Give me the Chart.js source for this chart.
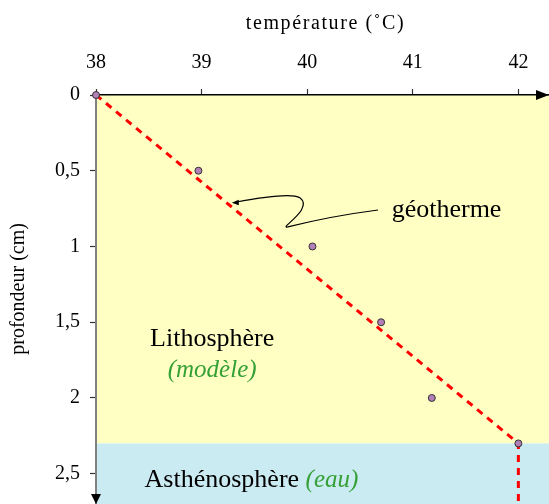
<!DOCTYPE html>
<html>
<head>
<meta charset="utf-8">
<script src="https://cdn.jsdelivr.net/npm/chart.js@4"></script>
<style>
  html, body { margin: 0; padding: 0; background: #fff; }
  canvas { display: block; }
</style>
</head>
<body>
<canvas id="geo" width="549" height="504"></canvas>
<script>
// mesures (température en °C, profondeur en cm)
const temperatures = [38, 38.97, 40.05, 40.70, 41.18, 42];
const profondeurs  = [0, 0.5, 1, 1.5, 2, 2.3];

// géotherme modèle
const geoTemp = [38, 42, 42];
const geoProf = [0, 2.3, 2.7];

const xTicks = [38, 39, 40, 41, 42];
const yTicks = [0, 0.5, 1, 1.5, 2, 2.5];

const limiteLitho = 2.3;

const SERIF = "'Liberation Serif', 'Times New Roman', serif";

// pas de marge auto autour des axes
function fixAxe(s, cote, taille) {
    s[cote] = taille;
    s.paddingTop = 0; s.paddingBottom = 0;
    s.paddingLeft = 0; s.paddingRight = 0;
}

/* fonds + annotations */
const decor = {
    id: 'decor',
    beforeDraw(chart) {
        const { ctx, chartArea: a, scales: { x, y } } = chart;
        const yl = y.getPixelForValue(limiteLitho);
        ctx.save();
        ctx.fillStyle = '#FFFFC4';
        ctx.fillRect(a.left, a.top, a.right - a.left, yl - a.top);
        ctx.fillStyle = '#CBEBF2';
        ctx.fillRect(a.left, yl, a.right - a.left, a.bottom - yl);
        ctx.restore();
    },
    afterDraw(chart) {
        const { ctx, chartArea: a, scales: { x, y } } = chart;
        const px = v => x.getPixelForValue(v);
        const py = v => y.getPixelForValue(v);
        ctx.save();

        // titres des axes
        ctx.font = '20px ' + SERIF;
        ctx.fillStyle = '#000';
        ctx.textAlign = 'center';
        ctx.textBaseline = 'middle';
        ctx.letterSpacing = '1.6px';
        ctx.fillText('température (˚C)', (a.left + a.right) / 2 + 3, 24);
        ctx.letterSpacing = '0px';

        ctx.save();
        ctx.translate(19, py(1.28));
        ctx.rotate(-Math.PI / 2);
        ctx.fillText('profondeur (cm)', 0, 0);
        ctx.restore();

        // flèches des axes
        ctx.beginPath();
        ctx.moveTo(a.right, a.top);
        ctx.lineTo(a.right - 13, a.top - 5);
        ctx.lineTo(a.right - 13, a.top + 5);
        ctx.closePath();
        ctx.fill();
        ctx.beginPath();
        ctx.moveTo(a.left, a.bottom);
        ctx.lineTo(a.left - 5, a.bottom - 10);
        ctx.lineTo(a.left + 5, a.bottom - 10);
        ctx.closePath();
        ctx.fill();

        // textes
        ctx.textBaseline = 'alphabetic';
        ctx.font = '26px ' + SERIF;
        ctx.fillText('Lithosphère', px(39.10), py(1.656));
        ctx.font = 'italic 25px ' + SERIF;
        ctx.fillStyle = '#35A035';
        ctx.fillText('(modèle)', px(39.10), py(1.86));

        ctx.textAlign = 'left';
        ctx.font = '26px ' + SERIF;
        ctx.fillStyle = '#000';
        const ax = px(38.46), ay = py(2.586);
        ctx.fillText('Asthénosphère ', ax, ay);
        const w = ctx.measureText('Asthénosphère ').width;
        ctx.font = 'italic 25px ' + SERIF;
        ctx.fillStyle = '#35A035';
        ctx.fillText('(eau)', ax + w, ay);

        ctx.font = '26px ' + SERIF;
        ctx.fillStyle = '#000';
        ctx.fillText('géotherme', px(40.80), py(0.805));

        // flèche ondulée vers le géotherme
        ctx.strokeStyle = '#000';
        ctx.lineWidth = 1.2;
        ctx.beginPath();
        ctx.moveTo(px(40.671), py(0.759));
        ctx.quadraticCurveTo(px(40.215), py(0.80), px(39.817), py(0.871));
        ctx.bezierCurveTo(px(39.72), py(0.885), px(40.07), py(0.75), px(39.931), py(0.679));
        ctx.quadraticCurveTo(px(39.84), py(0.64), px(39.32), py(0.708));
        ctx.stroke();
        const tx = px(39.286), ty = py(0.712);
        ctx.beginPath();
        ctx.moveTo(tx, ty);
        ctx.lineTo(tx + 7, ty - 3);
        ctx.lineTo(tx + 7, ty + 2.5);
        ctx.closePath();
        ctx.fill();

        ctx.restore();
    }
};

new Chart(document.getElementById('geo'), {
    type: 'scatter',
    data: {
        datasets: [{
            data: temperatures.map((t, i) => ({ x: t, y: profondeurs[i] })),
            backgroundColor: '#B27FB6',
            borderColor: '#333',
            borderWidth: 1,
            pointRadius: 3.5,
            showLine: false,
            clip: false
        }, {
            data: geoTemp.map((t, i) => ({ x: t, y: geoProf[i] })),
            showLine: true,
            borderColor: '#FF0000',
            borderWidth: 3,
            borderDash: [7, 6],
            pointRadius: 0,
            fill: false
        }]
    },
    options: {
        responsive: false,
        animation: false,
        layout: { padding: 0, autoPadding: false },
        plugins: { legend: { display: false }, tooltip: { enabled: false } },
        scales: {
            x: {
                type: 'linear',
                position: 'top',
                min: 38,
                max: 42.29,
                afterBuildTicks: s => { s.ticks = xTicks.map(v => ({ value: v })); },
                afterFit: s => fixAxe(s, 'height', 95),
                ticks: { color: '#000', padding: 14, font: { family: SERIF, size: 20 } },
                grid: { drawOnChartArea: false, tickLength: 6, tickColor: '#333', tickWidth: 1.2 },
                border: { color: '#000', width: 1.5 },
                title: { display: false }
            },
            y: {
                type: 'linear',
                reverse: true,
                min: 0,
                max: 2.7,
                afterBuildTicks: s => { s.ticks = yTicks.map(v => ({ value: v })); },
                afterFit: s => fixAxe(s, 'width', 96),
                ticks: {
                    color: '#000',
                    padding: 10,
                    font: { family: SERIF, size: 20 },
                    callback: v => String(v).replace('.', ',')
                },
                grid: { drawOnChartArea: false, tickLength: 6, tickColor: '#333', tickWidth: 1.2 },
                border: { color: '#808080', width: 2 },
                title: { display: false }
            }
        }
    },
    plugins: [decor]
});
</script>
</body>
</html>
